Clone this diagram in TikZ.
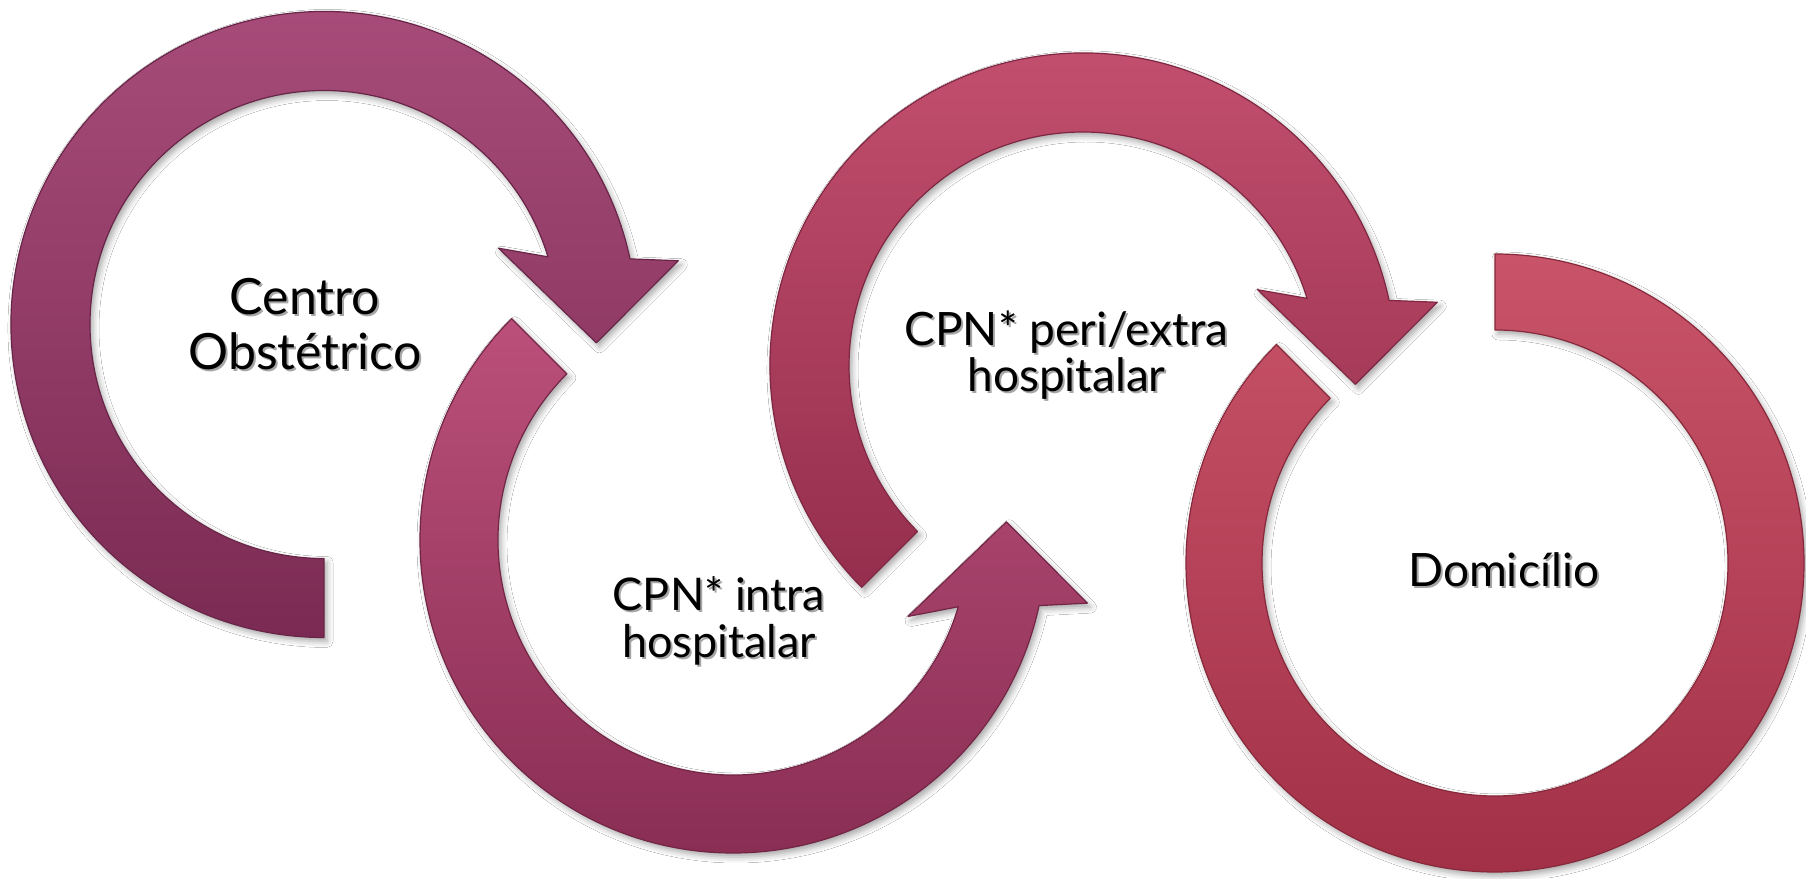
\documentclass[tikz,border=0pt]{standalone}
\usepackage{fontspec}
\setmainfont{Lato}
\usetikzlibrary{shadows.blur}
\definecolor{aOneTop}{HTML}{A94D7B}
\definecolor{aOneBot}{HTML}{7B2B53}
\definecolor{aTwoTop}{HTML}{BB507A}
\definecolor{aTwoBot}{HTML}{872C52}
\definecolor{aThreeTop}{HTML}{C4506E}
\definecolor{aThreeBot}{HTML}{952E4E}
\definecolor{aFourTop}{HTML}{C9546A}
\definecolor{aFourBot}{HTML}{A02F45}
\begin{document}
\begin{tikzpicture}[x=1pt,y=1pt,
  arrowshape/.style={blur shadow={shadow xshift=3pt,shadow yshift=-4pt,shadow blur radius=6pt,shadow opacity=35},
    line width=1.2pt, line join=round},
  lbl/.style={align=center, text=black, inner sep=0pt},
  txtshadow/.style={lbl, text=black, opacity=0.35, xshift=2pt, yshift=-2pt},
  bigtext/.style={font=\fontsize{50}{55}\selectfont},
  midtext/.style={font=\fontsize{46}{46}\selectfont},
  smalltext/.style={font=\fontsize{45}{47}\selectfont}]
\useasboundingbox (0,0) rectangle (1806,878);
\fill[white] (0,0) rectangle (1806,878);
\coordinate (c1) at (324,553.5);
\coordinate (c2) at (733,338);
\coordinate (c3) at (1083,512);
\coordinate (c4) at (1495,315);
% arrow 1
\path[arrowshape, draw=aOneBot!85!black, top color=aOneTop, bottom color=aOneBot, shift={(c1)}]
  (12.1:313) arc[start angle=12.1,end angle=270,radius=313] -- (270:234)
  arc[start angle=270,end angle=16.8,radius=234] -- (23.6:190.5) -- (-3.85:273) -- (10.2:360) -- cycle;
% arrow 2
\path[arrowshape, draw=aTwoBot!85!black, top color=aTwoTop, bottom color=aTwoBot, shift={(c2)}]
  (135:313) arc[start angle=135,end angle=347.9,radius=313] -- (349.9:360) -- (3.8:274)
  -- (336.4:191) -- (343.5:235) arc[start angle=343.5,end angle=135,radius=235] -- cycle;
% arrow 3
\path[arrowshape, draw=aThreeBot!85!black, top color=aThreeTop, bottom color=aThreeBot, shift={(c3)}]
  (12.1:313) arc[start angle=12.1,end angle=225,radius=313] -- (225:234)
  arc[start angle=225,end angle=16.8,radius=234] -- (23.6:190.5) -- (-3.85:273) -- (10.2:360) -- cycle;
% arrow 4
\path[arrowshape, draw=aFourBot!85!black, top color=aFourTop, bottom color=aFourBot, shift={(c4)}]
  (135:309) arc[start angle=135,end angle=450,radius=309] -- (90:233)
  arc[start angle=450,end angle=135,radius=233] -- cycle;
% labels
\node[txtshadow, bigtext] (s1) at (305,553.5) {Centro\\Obstétrico};
\node[lbl, bigtext] (t1) at (305,553.5) {Centro\\Obstétrico};
\node[txtshadow, smalltext] (s2) at (719,256.6) {CPN* intra\\hospitalar};
\node[lbl, smalltext] (t2) at (719,256.6) {CPN* intra\\hospitalar};
\node[txtshadow, midtext] (s3) at (1066.5,522.5) {CPN* peri/extra\\hospitalar};
\node[lbl, midtext] (t3) at (1066.5,522.5) {CPN* peri/extra\\hospitalar};
\node[txtshadow, midtext, anchor=base] (s4) at (1504,291) {Domicílio};
\node[lbl, midtext, anchor=base] (t4) at (1504,291) {Domicílio};
\end{tikzpicture}
\end{document}
